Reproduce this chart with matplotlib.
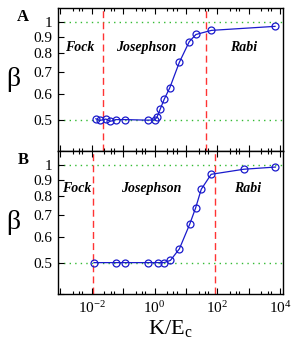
import numpy as np
import matplotlib
matplotlib.use('Agg')
from matplotlib import pyplot as plt
from matplotlib.ticker import LogLocator, NullFormatter, FixedLocator

plt.rcParams['font.family'] = ['Liberation Serif', 'DejaVu Serif']
plt.rcParams['mathtext.fontset'] = 'stix'

# panel A
xa = [0.0137, 0.0183, 0.0284, 0.0398, 0.0586, 0.1186, 0.617, 1.02, 1.21, 1.51, 2.02, 3.05, 6.15, 12.7, 20.7, 64.6, 6760]
ya = [0.503, 0.497, 0.502, 0.494, 0.500, 0.500, 0.498, 0.499, 0.510, 0.538, 0.577, 0.626, 0.750, 0.868, 0.913, 0.940, 0.967]
linesA = [0.023, 43]

# panel B
xb = [0.0119, 0.0586, 0.1186, 0.617, 1.245, 2.02, 3.2, 6.15, 13.1, 20.2, 30.5, 63.1, 692, 6920]
yb = [0.500, 0.500, 0.500, 0.500, 0.500, 0.500, 0.508, 0.551, 0.656, 0.736, 0.840, 0.934, 0.968, 0.983]
linesB = [0.0113, 84]

regions = ['Fock', 'Josephson', 'Rabi']
posA = [0.0043, 0.56, 700]
posB = [0.0034, 0.80, 930]

yticks = [0.5, 0.6, 0.7, 0.8, 0.9, 1.0]
yticklabels = ['0.5', '0.6', '0.7', '0.8', '0.9', '1']
xmajor = [1e-3, 1e-2, 1e-1, 1, 1e1, 1e2, 1e3, 1e4]
xlabels = ['', r'$\mathregular{10^{-2}}$', '', r'$\mathregular{10^{0}}$', '',
           r'$\mathregular{10^{2}}$', '', r'$\mathregular{10^{4}}$']

fig = plt.figure(figsize=(3.0, 3.54), dpi=100)
axA = fig.add_axes([0.193, 0.573, 0.750, 0.404])
axB = fig.add_axes([0.193, 0.169, 0.750, 0.404])

panels = [(axA, xa, ya, linesA, posA, 'A', 0.835), (axB, xb, yb, linesB, posB, 'B', 0.845)]
for ax, x, y, vl, pos, tag, ty in panels:
    ax.set_xscale('log')
    ax.set_yscale('log')
    ax.set_xlim(8.5e-4, 1.2e4)
    ax.set_ylim(0.4, 1.1)
    ax.axhline(0.5, color='#33bb33', ls=(0, (1, 3)), lw=1.0, zorder=1)
    ax.axhline(1.0, color='#33bb33', ls=(0, (1, 3)), lw=1.0, zorder=1)
    for v in vl:
        ax.axvline(v, color='#ff3333', ls=(0, (5, 3)), lw=1.0, zorder=1)
    ax.plot(x, y, '-o', color='#1a1acc', lw=0.9, ms=5, mfc='none', mew=0.9, zorder=3)
    for name, px in zip(regions, pos):
        ax.text(px, ty, name, fontsize=10, fontweight='bold', fontstyle='italic',
                ha='center', va='center')
    ax.yaxis.set_major_locator(FixedLocator([0.4] + yticks))
    ax.set_yticklabels([''] + yticklabels)
    ax.yaxis.set_minor_locator(FixedLocator([]))
    ax.xaxis.set_major_locator(FixedLocator(xmajor))
    ax.xaxis.set_minor_locator(LogLocator(base=10, subs=(2.5, 4, 5), numticks=20))
    ax.xaxis.set_minor_formatter(NullFormatter())
    ax.tick_params(which='both', direction='in', top=True, labelsize=11, pad=4)
    ax.tick_params(which='major', length=4, width=0.8)
    ax.tick_params(which='minor', length=2.5, width=0.8)
    for s in ax.spines.values():
        s.set_linewidth(1.0)
    ax.set_ylabel('β', fontsize=20, rotation=0, va='center')
    ax.yaxis.set_label_coords(-0.20, 0.5)
    ax.text(-0.13, 0.935, tag, transform=ax.transAxes, fontsize=12, fontweight='bold',
            ha='right', va='center')

axA.tick_params(labelbottom=False)
axB.set_xticklabels(xlabels)
axB.set_xlabel(r'$\mathregular{K/E_c}$', fontsize=16, labelpad=2)

fig.savefig('out.png', dpi=100)
